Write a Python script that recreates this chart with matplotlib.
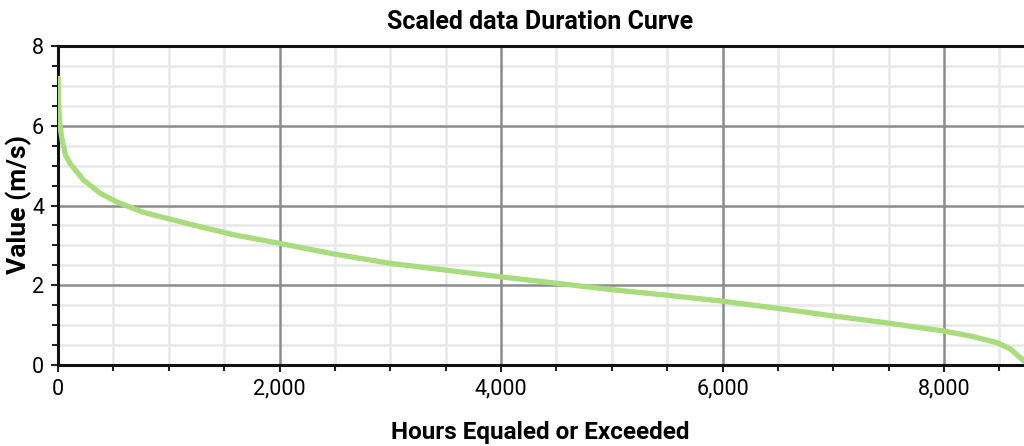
import matplotlib
matplotlib.use("Agg")
import matplotlib.pyplot as plt
from matplotlib.ticker import MultipleLocator, FuncFormatter, NullFormatter

# duration curve
hours = [0, 8, 20, 40, 70, 110, 230, 380, 530, 770, 980, 1280, 1580, 2000,
         2500, 3000, 3500, 4000, 4500, 5000, 5500, 6000, 6500, 7000, 7500,
         8000, 8250, 8480, 8600, 8722, 8760]
values = [7.25, 6.4, 5.95, 5.6, 5.25, 5.05, 4.64, 4.31, 4.09, 3.83, 3.68,
          3.47, 3.27, 3.05, 2.78, 2.55, 2.38, 2.21, 2.05, 1.89, 1.75, 1.60,
          1.42, 1.23, 1.05, 0.85, 0.72, 0.56, 0.40, 0.10, 0.0]

plt.rcParams["font.family"] = ["Roboto", "DejaVu Sans"]

fig = plt.figure(figsize=(10.24, 4.46), dpi=100)
rect = [58/1024, 1-365/446, 1-58/1024, (365-46)/446]

# light minor grid sits in its own axes underneath so it doesn't cut the major lines
bg = fig.add_axes(rect)
ax = fig.add_axes(rect)
ax.patch.set_visible(False)

for a in (bg, ax):
    a.set_xlim(0, 8722)
    a.set_ylim(0, 8)
    a.xaxis.set_major_locator(MultipleLocator(2000))
    a.xaxis.set_minor_locator(MultipleLocator(500))
    a.yaxis.set_major_locator(MultipleLocator(2))
    a.yaxis.set_minor_locator(MultipleLocator(0.5))

bg.grid(which="minor", color="#e8e8e8", lw=1.8)
bg.tick_params(which="both", length=0)
bg.xaxis.set_major_formatter(NullFormatter())
bg.yaxis.set_major_formatter(NullFormatter())
for s in bg.spines.values():
    s.set_visible(False)

ax.plot(hours, values, color="#a8dc7c", lw=3.8, solid_capstyle="butt", zorder=3)
ax.xaxis.set_major_formatter(FuncFormatter(lambda v, p: f"{int(v):,}"))
ax.grid(which="major", color="#8c8c8c", lw=1.8)
ax.set_axisbelow(True)

for s in ("left", "top", "bottom"):
    ax.spines[s].set_linewidth(2.2)
    ax.spines[s].set_color("#111111")
ax.spines["right"].set_visible(False)

ax.tick_params(which="both", direction="out", color="#222222")
ax.tick_params(which="major", length=5, width=1.5, labelsize=15.5, pad=5)
ax.tick_params(which="minor", length=4, width=1.5)

fig.text(540/1024, 1-22/446, "Scaled data Duration Curve", ha="center", va="center",
         fontsize=18, fontweight="bold")
fig.text(540/1024, 1-432/446, "Hours Equaled or Exceeded", ha="center", va="center",
         fontsize=17.5, fontweight="bold")
fig.text(19/1024, 1-205/446, "Value (m/s)", ha="center", va="center", rotation=90,
         fontsize=19, fontweight="bold")

fig.savefig("out.png", dpi=100)
